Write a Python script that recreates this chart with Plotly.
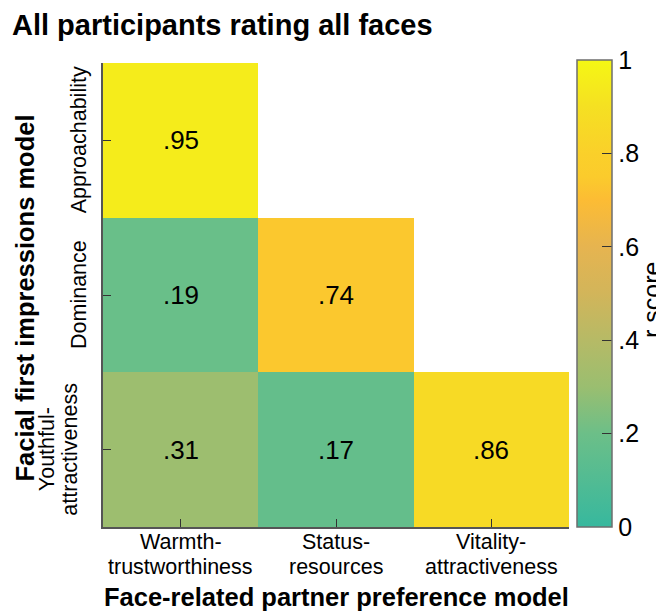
import plotly.graph_objects as go

# Data
col_labels = ["Warmth-<br>trustworthiness", "Status-<br>resources", "Vitality-<br>attractiveness"]
row_labels = ["Youthful-<br>attractiveness", "Dominance", "Approachability"]  # bottom to top
r_youthful = [0.31, 0.17, 0.86]
r_dominance = [0.19, 0.74, None]
r_approach = [0.95, None, None]
cbar_vals = [0, 0.2, 0.4, 0.6, 0.8, 1]
cbar_text = ["0", ".2", ".4", ".6", ".8", "1"]

z = [r_youthful, r_dominance, r_approach]

def fmt(v):
    return "" if v is None else f"{v:.2f}".lstrip("0")

text = [[fmt(v) for v in row] for row in z]

colorscale = [
    [0.0, "rgb(55,184,158)"],
    [0.2, "rgb(108,191,136)"],
    [0.3, "rgb(154,190,112)"],
    [0.4, "rgb(182,186,102)"],
    [0.5, "rgb(210,181,90)"],
    [0.6, "rgb(230,180,80)"],
    [0.7, "rgb(252,188,52)"],
    [0.75, "rgb(251,203,44)"],
    [0.8, "rgb(250,208,42)"],
    [0.9, "rgb(245,224,34)"],
    [1.0, "rgb(245,247,20)"],
]

FONT = "Liberation Sans, Arial, sans-serif"
W, H = 656, 612
L, R, T, B = 103, 87, 63, 85
pw = W - L - R
ph = H - T - B

def px_x(x):  # pixel x -> paper coordinate
    return (x - L) / pw

def px_y(y):  # pixel y -> paper coordinate
    return 1 - (y - T) / ph

fig = go.Figure(go.Heatmap(
    x=col_labels, y=row_labels, z=z,
    text=text, texttemplate="%{text}",
    textfont=dict(size=26, color="black", family=FONT),
    colorscale=colorscale, zmin=0, zmax=1,
    hoverongaps=False,
    colorbar=dict(
        x=px_x(577), xanchor="left", xpad=0,
        y=0, yanchor="bottom", ypad=0,
        len=467, lenmode="pixels",
        thickness=35, thicknessmode="pixels",
        outlinecolor="#6e6e6e", outlinewidth=1.5,
        tickvals=cbar_vals, ticktext=cbar_text,
        ticks="inside", ticklen=10, tickcolor="#333", tickwidth=1,
        tickfont=dict(size=25, family=FONT, color="black"),
    ),
))

annotations = []
# x tick labels (two lines each), drawn from the category list
for lab in col_labels:
    parts = lab.split("<br>")
    for i, p in enumerate(parts):
        annotations.append(dict(
            text=p, xref="x", yref="paper", x=lab, y=px_y(542 + 24.5 * i),
            xanchor="center", yanchor="middle", showarrow=False,
            font=dict(size=21.5, family=FONT, color="black")))
# y tick labels (rotated), drawn from the category list
for lab in row_labels:
    parts = lab.split("<br>")
    n = len(parts)
    for i, p in enumerate(parts):
        cx = 79 if n == 1 else 70 - 23.5 * (n - 1 - i)
        annotations.append(dict(
            text=p, xref="paper", yref="y", x=px_x(cx), y=lab,
            xanchor="center", yanchor="middle", showarrow=False, textangle=-90,
            font=dict(size=21.5, family=FONT, color="black")))

annotations += [
    dict(text="<b>Face-related partner preference model</b>",
         xref="paper", yref="paper", x=0.5, y=px_y(597),
         xanchor="center", yanchor="middle", showarrow=False,
         font=dict(size=25.5, family=FONT, color="black")),
    dict(text="<b>Facial first impressions model</b>",
         xref="paper", yref="paper", x=px_x(24.5), y=px_y(298),
         xanchor="center", yanchor="middle", showarrow=False, textangle=-90,
         font=dict(size=25.5, family=FONT, color="black")),
    dict(text="r score",
         xref="paper", yref="paper", x=px_x(652), y=px_y(300),
         xanchor="center", yanchor="middle", showarrow=False, textangle=-90,
         font=dict(size=25, family=FONT, color="black")),
]

fig.update_layout(
    width=W, height=H,
    margin=dict(l=L, r=R, t=T, b=B, autoexpand=False),
    paper_bgcolor="white", plot_bgcolor="white",
    font=dict(family=FONT, color="black"),
    title=dict(text="<b>All participants rating all faces</b>",
               x=12 / W, xanchor="left", xref="container",
               y=1 - 25 / H, yanchor="middle", yref="container",
               font=dict(size=29, family=FONT, color="black")),
    xaxis=dict(showline=True, linecolor="#555", linewidth=1.5, mirror=False,
               ticks="inside", ticklen=8, tickcolor="#333",
               showticklabels=False, automargin=False,
               showgrid=False, zeroline=False, fixedrange=True),
    yaxis=dict(showline=True, linecolor="#555", linewidth=1.5, mirror=False,
               ticks="inside", ticklen=8, tickcolor="#333",
               showticklabels=False, automargin=False,
               showgrid=False, zeroline=False, fixedrange=True),
    annotations=annotations,
)

fig.write_html("out.html",
               config={"displayModeBar": False},
               post_script="document.body.style.margin='0';document.body.style.overflow='hidden';")
